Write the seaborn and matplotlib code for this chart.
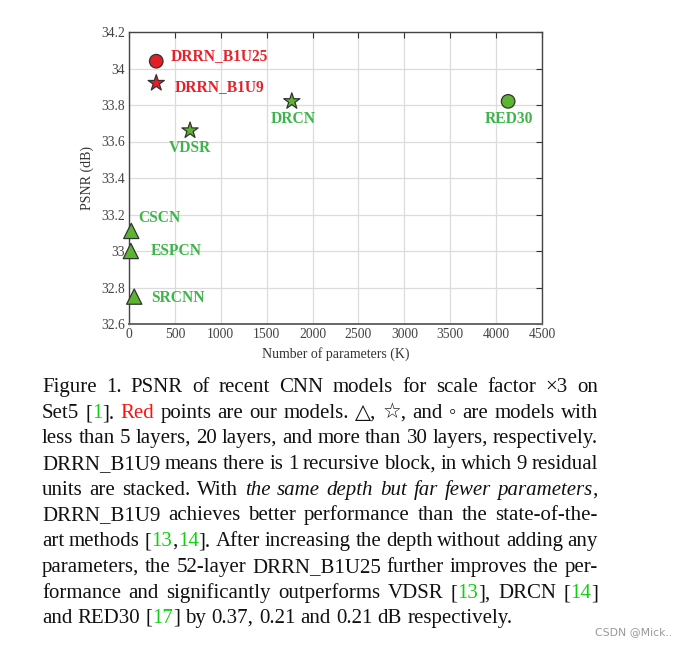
import pandas as pd
import matplotlib
matplotlib.use("Agg")
import matplotlib.pyplot as plt
import matplotlib.transforms as mtransforms
import seaborn as sns

# data
models = ["DRRN_B1U25", "DRRN_B1U9", "VDSR", "DRCN", "RED30", "CSCN", "ESPCN", "SRCNN"]
params_k = [297, 297, 665, 1774, 4131, 25, 20, 57]
psnr_db = [34.04, 33.92, 33.66, 33.82, 33.82, 33.11, 33.00, 32.75]
depth = ["deep", "medium", "medium", "medium", "deep", "shallow", "shallow", "shallow"]
group = ["ours", "ours", "other", "other", "other", "other", "other", "other"]

x_ticks = [0, 500, 1000, 1500, 2000, 2500, 3000, 3500, 4000, 4500]
y_ticks = [32.6, 32.8, 33.0, 33.2, 33.4, 33.6, 33.8, 34.0, 34.2]

# label placement (pixels from the marker)
label_pos = {
    "DRRN_B1U25": (14, 5, "left"),
    "DRRN_B1U9": (18, -4, "left"),
    "VDSR": (0, -17, "center"),
    "DRCN": (1, -18, "center"),
    "RED30": (1, -18, "center"),
    "CSCN": (7, 13, "left"),
    "ESPCN": (20, 0, "left"),
    "SRCNN": (17, -1, "left"),
}

RED = "#e8202a"
GREEN = "#3db54a"

df = pd.DataFrame({"model": models, "params": params_k, "psnr": psnr_db,
                   "depth": depth, "group": group})

sns.set_theme(style="whitegrid")
serif = ["Liberation Serif", "DejaVu Sans"]
plt.rcParams["font.family"] = serif

W, H = 686, 646
fig = plt.figure(figsize=(W / 100, H / 100), dpi=100)
fig.patch.set_facecolor("white")
ax = fig.add_axes([129 / W, 1 - 324 / H, (542 - 129) / W, (324 - 32) / H])

sns.scatterplot(data=df, x="params", y="psnr", hue="group", style="depth",
                size="depth",
                sizes={"shallow": 120, "medium": 150, "deep": 95},
                markers={"shallow": "^", "medium": "*", "deep": "o"},
                palette={"ours": "#e41e26", "other": "#5cb531"},
                edgecolor="#333333", linewidth=0.9, legend=False,
                ax=ax, zorder=3, clip_on=False)

for name, x, y, g in zip(models, params_k, psnr_db, group):
    dx, dy, ha = label_pos[name]
    ax.annotate(name, (x, y), xytext=(dx, dy), textcoords="offset pixels",
                ha=ha, va="center", fontsize=11.2, fontweight="bold",
                color=RED if g == "ours" else GREEN)

ax.set_xlim(0, 4500)
ax.set_ylim(32.6, 34.2)
ax.set_xticks(x_ticks)
ax.set_yticks(y_ticks)
ax.set_yticklabels([f"{v:g}" for v in y_ticks])
ax.tick_params(direction="in", length=4, width=0.8, top=True, right=True,
               color="#333333", labelcolor="#444444", labelsize=9.8, pad=3)
ax.grid(color="#dcdcdc", linewidth=0.9)
for sp in ax.spines.values():
    sp.set_color("#444444")
    sp.set_linewidth(1.0)
ax.spines["bottom"].set_linewidth(1.4)
ax.spines["bottom"].set_color("#666666")
ax.set_xlabel("Number of parameters (K)", fontsize=10, color="#333333", labelpad=4)
ax.set_ylabel("PSNR (dB)", fontsize=10, color="#333333", labelpad=5)

# caption below the chart
caption = [
    [("Figure 1. PSNR of recent CNN models for scale factor \u00d73 on", "n")],
    [("Set5 [", "n"), ("1", "g"), ("]. ", "n"), ("Red", "r"),
     (" points are our models. \u25b3, \u2606, and \u25e6 are models with", "n")],
    [("less than 5 layers, 20 layers, and more than 30 layers, respectively.", "n")],
    [("DRRN_B1U9 means there is 1 recursive block, in which 9 residual", "n")],
    [("units are stacked. With ", "n"),
     ("the same depth but far fewer parameters", "i"), (",", "n")],
    [("DRRN_B1U9 achieves better performance than the state-of-the-", "n")],
    [("art methods [", "n"), ("13", "g"), (",", "n"), ("14", "g"),
     ("]. After increasing the depth without adding any", "n")],
    [("parameters, the 52-layer DRRN_B1U25 further improves the per-", "n")],
    [("formance and significantly outperforms VDSR [", "n"), ("13", "g"),
     ("], DRCN [", "n"), ("14", "g"), ("]", "n")],
    [("and RED30 [", "n"), ("17", "g"), ("] by 0.37, 0.21 and 0.21 dB respectively.", "n")],
]

styles = {
    "n": dict(color="#111111"),
    "i": dict(color="#111111", style="italic"),
    "r": dict(color="#ff1010"),
    "g": dict(color="#10d010"),
}

ident = mtransforms.IdentityTransform()
renderer = fig.canvas.get_renderer()
cap_size = 15
x_left, x_right = 42, 598
base0, step = 392, 25.7


def text_width(s, style):
    t = fig.text(0, 0, s, fontsize=cap_size, family=serif, transform=ident, **styles[style])
    w = t.get_window_extent(renderer).width
    t.remove()
    return w


space_w = text_width("x x", "n") - text_width("xx", "n")

for i, segs in enumerate(caption):
    words, cur = [], []
    for txt, st in segs:
        parts = txt.split(" ")
        for k, p in enumerate(parts):
            if k > 0:
                words.append(cur)
                cur = []
            if p:
                cur.append((p, st))
    words.append(cur)
    words = [w for w in words if w]
    widths = [sum(text_width(p, st) for p, st in w) for w in words]
    last = i == len(caption) - 1
    if last:
        gap = space_w
    else:
        gap = (x_right - x_left - sum(widths)) / (len(words) - 1)
    y = round(H - (base0 + step * i))
    x = x_left
    for w, ww in zip(words, widths):
        xx = x
        for p, st in w:
            fig.text(xx, y, p, fontsize=cap_size, family=serif, transform=ident,
                     ha="left", va="baseline", **styles[st])
            xx += text_width(p, st)
        x += ww + gap

fig.text(595, H - 632, "CSDN @Mick..", fontsize=7.8, family="DejaVu Sans",
         color="#999999", transform=ident, ha="left", va="center")

fig.savefig("out.png", dpi=100)
